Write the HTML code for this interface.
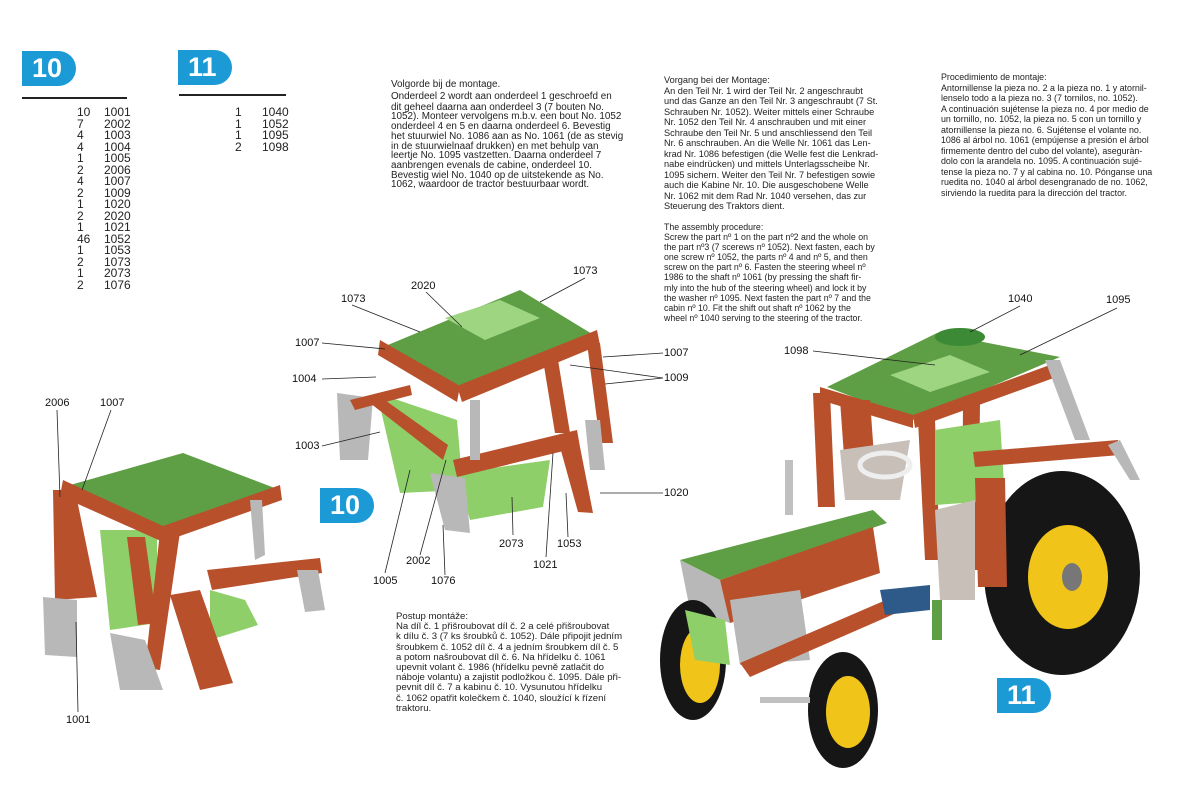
<!DOCTYPE html>
<html><head><meta charset="utf-8"><style>
body{margin:0;width:1177px;height:810px;background:#fff;position:relative;overflow:hidden;font-family:"Liberation Sans",sans-serif;color:#222}
.a{position:absolute;white-space:nowrap}
.badge{position:absolute;background:#1c9ad6;color:#fff;font-weight:bold;font-size:27px;height:35px;line-height:35px;padding-left:10px;border-radius:0 18px 18px 0}
.t{position:absolute;white-space:nowrap;color:#222}
.lst{position:absolute;font-size:12px;line-height:11.5px}
.lbl{position:absolute;font-size:11px;color:#111}
</style></head><body>
<div class="badge" style="left:22px;top:51px;width:44px">10</div>
<div class="badge" style="left:178px;top:50px;width:44px">11</div>
<div class="a" style="left:22px;top:97px;width:105px;height:1.5px;background:#222"></div>
<div class="a" style="left:179px;top:94px;width:107px;height:1.5px;background:#222"></div>
<div class="lst" style="left:77px;top:107px">10<br>7<br>4<br>4<br>1<br>2<br>4<br>2<br>1<br>2<br>1<br>46<br>1<br>2<br>1<br>2</div>
<div class="lst" style="left:104px;top:107px">1001<br>2002<br>1003<br>1004<br>1005<br>2006<br>1007<br>1009<br>1020<br>2020<br>1021<br>1052<br>1053<br>1073<br>2073<br>1076</div>
<div class="lst" style="left:235px;top:107px">1<br>1<br>1<br>2</div>
<div class="lst" style="left:262px;top:107px">1040<br>1052<br>1095<br>1098</div>

<div class="t" style="left:391px;top:80px;font-size:9.9px;line-height:9.7px">Volgorde bij de montage.<br><span style="line-height:13px">Onderdeel 2 wordt aan onderdeel 1 geschroefd en</span><br>dit geheel daarna aan onderdeel 3 (7 bouten No.<br>1052). Monteer vervolgens m.b.v. een bout No. 1052<br>onderdeel 4 en 5 en daarna onderdeel 6. Bevestig<br>het stuurwiel No. 1086 aan as No. 1061 (de as stevig<br>in de stuurwielnaaf drukken) en met behulp van<br>leertje No. 1095 vastzetten. Daarna onderdeel 7<br>aanbrengen evenals de cabine, onderdeel 10.<br>Bevestig wiel No. 1040 op de uitstekende as No.<br>1062, waardoor de tractor bestuurbaar wordt.</div>

<div class="t" style="left:664px;top:75px;font-size:9.2px;line-height:10.5px">Vorgang bei der Montage:<br>An den Teil Nr. 1 wird der Teil Nr. 2 angeschraubt<br>und das Ganze an den Teil Nr. 3 angeschraubt (7 St.<br>Schrauben Nr. 1052). Weiter mittels einer Schraube<br>Nr. 1052 den Teil Nr. 4 anschrauben und mit einer<br>Schraube den Teil Nr. 5 und anschliessend den Teil<br>Nr. 6 anschrauben. An die Welle Nr. 1061 das Len-<br>krad Nr. 1086 befestigen (die Welle fest die Lenkrad-<br>nabe eindrücken) und mittels Unterlagsscheibe Nr.<br>1095 sichern. Weiter den Teil Nr. 7 befestigen sowie<br>auch die Kabine Nr. 10. Die ausgeschobene Welle<br>Nr. 1062 mit dem Rad Nr. 1040 versehen, das zur<br>Steuerung des Traktors dient.</div>

<div class="t" style="left:941px;top:72px;font-size:8.9px;line-height:10.5px">Procedimiento de montaje:<br>Antornillense la pieza no. 2 a la pieza no. 1 y atornil-<br>lenselo todo a la pieza no. 3 (7 tornilos, no. 1052).<br>A continuación sujétense la pieza no. 4 por medio de<br>un tornillo, no. 1052, la pieza no. 5 con un tornillo y<br>atornillense la pieza no. 6. Sujétense el volante no.<br>1086 al árbol no. 1061 (empújense a presión el árbol<br>firmemente dentro del cubo del volante), aseguràn-<br>dolo con la arandela no. 1095. A continuación sujé-<br>tense la pieza no. 7 y al cabina no. 10. Pónganse una<br>ruedita no. 1040 al árbol desengranado de no. 1062,<br>sirviendo la ruedita para la dirección del tractor.</div>

<div class="t" style="left:664px;top:222px;font-size:8.8px;line-height:10.1px">The assembly procedure:<br>Screw the part nº 1 on the part nº2 and the whole on<br>the part nº3 (7 scerews nº 1052). Next fasten, each by<br>one screw nº 1052, the parts nº 4 and nº 5, and then<br>screw on the part nº 6. Fasten the steering wheel nº<br>1986 to the shaft nº 1061 (by pressing the shaft fir-<br>mly into the hub of the steering wheel) and lock it by<br>the washer nº 1095. Next fasten the part nº 7 and the<br>cabin nº 10. Fit the shift out shaft nº 1062 by the<br>wheel nº 1040 serving to the steering of the tractor.</div>

<div class="t" style="left:396px;top:612px;font-size:9.6px;line-height:10.2px">Postup montáže:<br>Na díl č. 1 přišroubovat díl č. 2 a celé přišroubovat<br>k dílu č. 3 (7 ks šroubků č. 1052). Dále připojit jedním<br>šroubkem č. 1052 díl č. 4 a jedním šroubkem díl č. 5<br>a potom našroubovat díl č. 6. Na hřídelku č. 1061<br>upevnit volant č. 1986 (hřídelku pevně zatlačit do<br>náboje volantu) a zajistit podložkou č. 1095. Dále při-<br>pevnit díl č. 7 a kabinu č. 10. Vysunutou hřídelku<br>č. 1062 opatřit kolečkem č. 1040, sloužící k řízení<br>traktoru.</div>

<svg class="a" style="left:0;top:0" width="1177" height="810">
<!-- model 10 left -->
<polygon points="100,530 157,530 157,623 110,630" fill="#8fcf6a"/>
<polygon points="63,487 183,453 280,490 163,533" fill="#5e9e44"/>
<polygon points="63,480 163,526 163,542 60,496" fill="#b8502c"/>
<polygon points="163,526 280,485 282,500 163,542" fill="#b8502c"/>
<polygon points="53,490 75,490 97,597 55,600" fill="#b8502c"/>
<polygon points="43,597 77,600 77,657 45,655" fill="#b8b8b8"/>
<polygon points="127,537 145,537 157,623 138,625" fill="#b8502c"/>
<polygon points="160,532 180,532 160,670 145,668" fill="#b8502c"/>
<polygon points="110,633 145,640 163,690 120,690" fill="#b8b8b8"/>
<polygon points="210,590 245,600 258,625 210,640" fill="#8fcf6a"/>
<polygon points="207,570 320,558 322,573 212,590" fill="#b8502c"/>
<polygon points="170,595 200,590 233,683 200,690" fill="#b8502c"/>
<polygon points="297,570 318,570 325,610 305,612" fill="#b8b8b8"/>
<polygon points="250,500 262,500 265,555 255,560" fill="#b8b8b8"/>
<!-- model 10 labeled -->
<polygon points="377,393 457,420 463,490 400,493" fill="#8fcf6a"/>
<polygon points="457,473 550,460 543,507 470,520" fill="#8fcf6a"/>
<polygon points="383,347 520,290 597,337 457,393" fill="#5e9e44"/>
<polygon points="445,318 500,300 540,318 485,340" fill="#9ed580"/>
<polygon points="380,340 460,386 457,402 378,355" fill="#b8502c"/>
<polygon points="457,386 597,330 600,345 462,402" fill="#b8502c"/>
<polygon points="337,393 373,398 368,460 340,460" fill="#b8b8b8"/>
<polygon points="370,403 382,398 448,445 443,460" fill="#b8502c"/>
<polygon points="350,400 410,385 412,395 355,410" fill="#b8502c"/>
<polygon points="453,460 577,430 580,447 457,477" fill="#b8502c"/>
<polygon points="430,473 465,478 470,533 445,530" fill="#b8b8b8"/>
<polygon points="560,447 580,447 593,513 578,512" fill="#b8502c"/>
<polygon points="587,343 600,343 613,443 600,443" fill="#b8502c"/>
<polygon points="543,360 558,360 570,433 555,433" fill="#b8502c"/>
<polygon points="470,400 480,400 480,460 470,460" fill="#b8b8b8"/>
<polygon points="585,420 600,420 605,470 590,470" fill="#b8b8b8"/>
<!-- tractor -->
<polygon points="827,387 937,333 1060,357 913,420" fill="#5e9e44"/>
<polygon points="890,375 950,355 990,372 930,392" fill="#9ed580"/>
<ellipse cx="960" cy="337" rx="25" ry="9" fill="#3d8a36"/>
<polygon points="820,387 913,415 913,428 820,400" fill="#b8502c"/>
<polygon points="913,415 1058,362 1062,375 915,428" fill="#b8502c"/>
<polygon points="1045,360 1060,360 1090,440 1075,440" fill="#b8b8b8"/>
<polygon points="813,393 830,393 835,507 818,507" fill="#b8502c"/>
<polygon points="918,420 935,420 940,560 925,560" fill="#b8502c"/>
<polygon points="963,403 980,403 978,570 962,570" fill="#b8502c"/>
<polygon points="840,400 870,400 875,470 845,470" fill="#b8502c"/>
<polygon points="935,430 1000,420 1005,500 935,505" fill="#8fcf6a"/>
<polygon points="840,450 910,440 900,500 845,500" fill="#c8c0b8"/>
<ellipse cx="885" cy="465" rx="25" ry="12" fill="none" stroke="#eee" stroke-width="5"/>
<polygon points="973,452 1118,440 1120,455 975,467" fill="#b8502c"/>
<polygon points="1108,445 1120,440 1140,480 1130,480" fill="#b8b8b8"/>
<ellipse cx="1062" cy="573" rx="78" ry="102" fill="#161616"/>
<ellipse cx="1068" cy="577" rx="40" ry="52" fill="#f0c418"/>
<ellipse cx="1072" cy="577" rx="10" ry="14" fill="#777"/>
<polygon points="975,478 1005,478 1007,587 978,587" fill="#b8502c"/>
<polygon points="935,510 975,500 975,600 940,600" fill="#c8c0b8"/>
<polygon points="680,560 873,510 887,523 720,580" fill="#5e9e44"/>
<polygon points="680,560 720,580 730,623 690,610" fill="#b8b8b8"/>
<polygon points="720,580 873,527 880,573 730,623" fill="#b8502c"/>
<rect x="785" y="460" width="8" height="55" fill="#c0c0c0"/>
<polygon points="730,600 800,590 810,660 740,665" fill="#b8b8b8"/>
<polygon points="740,663 893,597 903,610 750,677" fill="#b8502c"/>
<polygon points="880,590 930,585 930,610 885,615" fill="#2e5a8a"/>
<rect x="932" y="600" width="10" height="40" fill="#5e9e44"/>
<ellipse cx="693" cy="660" rx="33" ry="60" fill="#161616"/>
<ellipse cx="700" cy="665" rx="20" ry="38" fill="#f0c418"/>
<polygon points="685,610 725,620 730,665 695,660" fill="#8fcf6a"/>
<ellipse cx="843" cy="710" rx="35" ry="58" fill="#161616"/>
<ellipse cx="848" cy="712" rx="22" ry="36" fill="#f0c418"/>
<rect x="760" y="697" width="50" height="6" fill="#c0c0c0"/>
<!-- leader lines -->
<g stroke="#222" stroke-width="0.8" fill="none">
<line x1="57" y1="410" x2="60" y2="497"/><line x1="111" y1="410" x2="82" y2="490"/>
<line x1="78" y1="712" x2="76" y2="622"/>
<line x1="352" y1="305" x2="420" y2="332"/><line x1="426" y1="292" x2="462" y2="327"/>
<line x1="585" y1="278" x2="540" y2="302"/>
<line x1="322" y1="343" x2="385" y2="349"/><line x1="322" y1="379" x2="376" y2="377"/>
<line x1="322" y1="446" x2="380" y2="432"/>
<line x1="663" y1="353" x2="603" y2="357"/><line x1="663" y1="378" x2="570" y2="365"/><line x1="663" y1="378" x2="605" y2="384"/>
<line x1="663" y1="493" x2="600" y2="493"/>
<line x1="385" y1="573" x2="410" y2="470"/><line x1="420" y1="555" x2="446" y2="460"/>
<line x1="445" y1="575" x2="443" y2="525"/><line x1="513" y1="535" x2="512" y2="497"/>
<line x1="546" y1="557" x2="553" y2="453"/><line x1="568" y1="537" x2="566" y2="493"/>
<line x1="813" y1="351" x2="935" y2="365"/><line x1="1020" y1="306" x2="970" y2="332"/>
<line x1="1117" y1="308" x2="1020" y2="355"/>
</g>
</svg>
<div class="badge" style="left:320px;top:488px;width:44px">10</div>
<div class="badge" style="left:997px;top:678px;width:44px">11</div>
<div class="lbl" style="left:45px;top:397px">2006</div>
<div class="lbl" style="left:100px;top:397px">1007</div>
<div class="lbl" style="left:66px;top:714px">1001</div>
<div class="lbl" style="left:341px;top:293px">1073</div>
<div class="lbl" style="left:411px;top:280px">2020</div>
<div class="lbl" style="left:573px;top:265px">1073</div>
<div class="lbl" style="left:295px;top:337px">1007</div>
<div class="lbl" style="left:292px;top:373px">1004</div>
<div class="lbl" style="left:295px;top:440px">1003</div>
<div class="lbl" style="left:664px;top:347px">1007</div>
<div class="lbl" style="left:664px;top:372px">1009</div>
<div class="lbl" style="left:664px;top:487px">1020</div>
<div class="lbl" style="left:499px;top:538px">2073</div>
<div class="lbl" style="left:557px;top:538px">1053</div>
<div class="lbl" style="left:406px;top:555px">2002</div>
<div class="lbl" style="left:533px;top:559px">1021</div>
<div class="lbl" style="left:373px;top:575px">1005</div>
<div class="lbl" style="left:431px;top:575px">1076</div>
<div class="lbl" style="left:784px;top:345px">1098</div>
<div class="lbl" style="left:1008px;top:293px">1040</div>
<div class="lbl" style="left:1106px;top:294px">1095</div>
</body></html>
